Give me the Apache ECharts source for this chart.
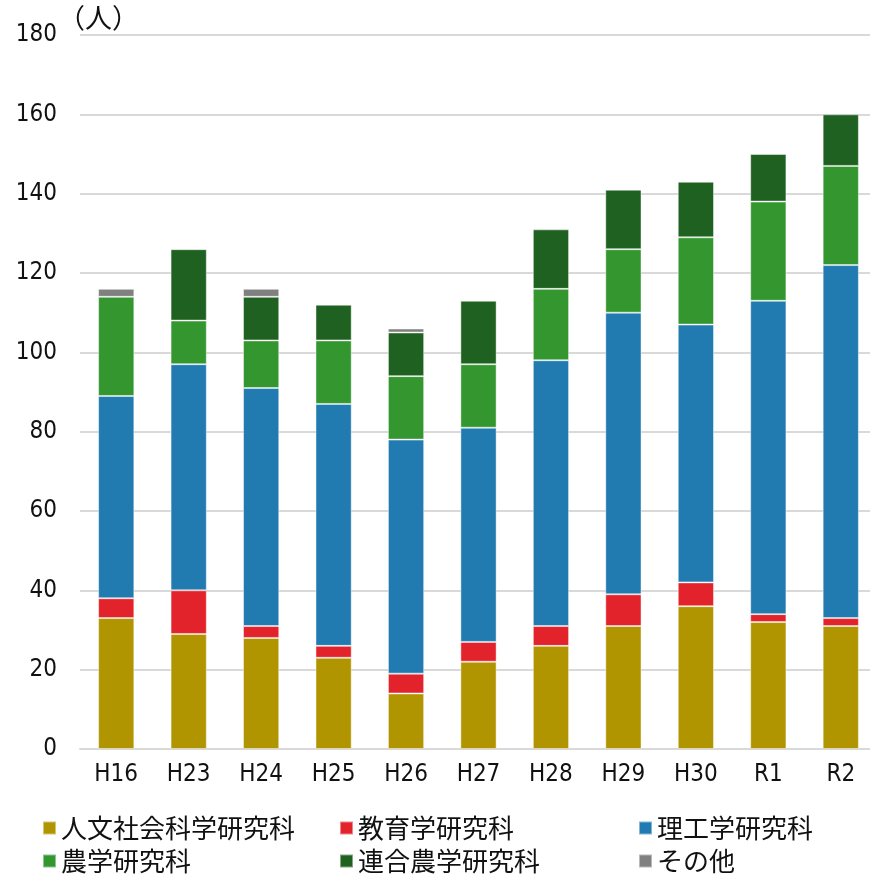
<!DOCTYPE html>
<html>
<head>
<meta charset="utf-8">
<script src="https://cdn.jsdelivr.net/npm/echarts@6/dist/echarts.min.js"></script>
<style>
  html, body { margin: 0; padding: 0; background: #fff; }
  #chart { width: 870px; height: 877px; }
</style>
</head>
<body>
<div id="chart"></div>
<script>
// 研究科別 人数（積み上げ）
const years = ['H16', 'H23', 'H24', 'H25', 'H26', 'H27', 'H28', 'H29', 'H30', 'R1', 'R2'];
const jinbun = [33, 29, 28, 23, 14, 22, 26, 31, 36, 32, 31];
const kyoiku = [5, 11, 3, 3, 5, 5, 5, 8, 6, 2, 2];
const riko = [51, 57, 60, 61, 59, 54, 67, 71, 65, 79, 89];
const nogaku = [25, 11, 12, 16, 16, 16, 18, 16, 22, 25, 25];
const rengo = [0, 18, 11, 9, 11, 16, 15, 15, 14, 12, 13];
const sonota = [2, 0, 2, 0, 1, 0, 0, 0, 0, 0, 0];
const yTicks = { min: 0, max: 180, interval: 20 };

const FONT = "'Liberation Sans Narrow', 'DejaVu Sans Condensed', 'Noto Sans CJK JP', sans-serif";
const CJK = "'Noto Sans CJK JP', sans-serif";

const seriesDefs = [
  { name: '人文社会科学研究科', data: jinbun, color: '#b09500' },
  { name: '教育学研究科', data: kyoiku, color: '#e2232b' },
  { name: '理工学研究科', data: riko, color: '#217bb0' },
  { name: '農学研究科', data: nogaku, color: '#33962f' },
  { name: '連合農学研究科', data: rengo, color: '#1f6120' },
  { name: 'その他', data: sonota, color: '#808080' },
];

// legend slots: 3 columns x 2 rows
const legendPos = [
  [42, 815], [339, 815], [638, 815],
  [42, 848], [339, 848], [638, 848],
];

const chart = echarts.init(document.getElementById('chart'), null, { renderer: 'canvas' });
chart.setOption({
  animation: false,
  backgroundColor: '#fff',
  grid: { left: 80, top: 35, width: 797, bottom: 128, containLabel: false, outerBoundsMode: 'none' },
  legend: seriesDefs.map((s, i) => ({
    data: [s.name],
    left: legendPos[i][0],
    top: legendPos[i][1],
    padding: 0,
    icon: 'rect',
    itemWidth: 13,
    itemHeight: 13,
    itemGap: 0,
    selectedMode: false,
    textStyle: { fontFamily: CJK, fontSize: 26, color: '#111', padding: [0, 0, 0, 0] },
  })),
  xAxis: {
    type: 'category',
    data: years,
    axisLine: { lineStyle: { color: '#d9d9d9', width: 2 } },
    axisTick: { show: false },
    axisLabel: { fontFamily: FONT, fontSize: 24, color: '#111', margin: 14 },
  },
  yAxis: {
    type: 'value',
    min: yTicks.min,
    max: yTicks.max,
    interval: yTicks.interval,
    axisLine: { show: false },
    axisTick: { show: false },
    axisLabel: { fontFamily: FONT, fontSize: 24, color: '#111', margin: 23 },
    splitLine: { lineStyle: { color: '#d9d9d9', width: 2 } },
  },
  graphic: [{
    type: 'text',
    left: 58,
    top: 4,
    style: { text: '（人）', font: "27px 'Noto Sans CJK JP'", fill: '#111' },
  }],
  series: seriesDefs.map((s) => ({
    name: s.name,
    type: 'bar',
    stack: 'total',
    barWidth: '50%',
    data: s.data.map((v) => (v ? v : '-')),
    itemStyle: { color: s.color, borderColor: 'rgba(255,255,255,0.45)', borderWidth: 1 },
  })),
});
window.addEventListener('resize', () => chart.resize());
</script>
</body>
</html>
